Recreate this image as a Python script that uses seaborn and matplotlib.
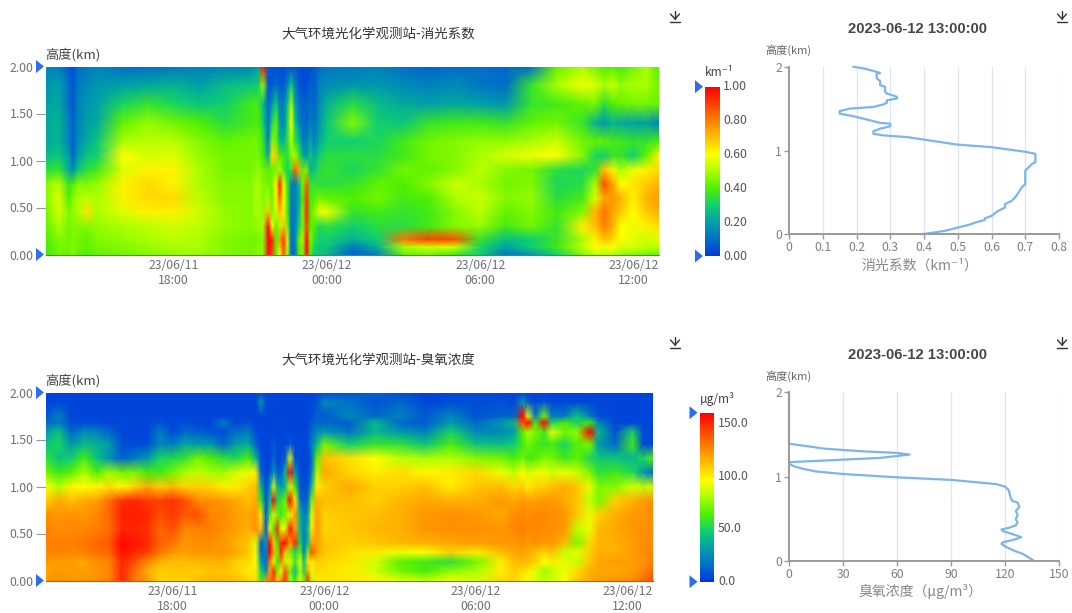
import numpy as np
import matplotlib
matplotlib.use('Agg')
import matplotlib.pyplot as plt
from matplotlib.lines import Line2D
import seaborn as sns

sns.set_theme(style="white")
plt.rcParams['font.family'] = ['Noto Sans CJK SC', 'DejaVu Sans']

W, H = 1072, 613

# shared colours of the color scale, low to high
scale_colors = ['#0038e0', '#0070c8', '#00a0a8', '#10d070', '#50f000', '#a8ff00',
                '#ffff00', '#ffc000', '#ff8000', '#ff4000', '#ff0000']

x_tick_labels = ['23/06/11\n18:00', '23/06/12\n00:00', '23/06/12\n06:00', '23/06/12\n12:00']
x_tick_hours = [5, 11, 17, 23]   # hours since 23/06/11 13:00

# ---------- extinction heatmap, values in 0.01 km-1 ----------
ext_hours = [0, .5, .9, 1.05, 1.25, 1.6, 2, 3, 4, 5, 6, 7, 8,
             8.3, 8.5, 8.7, 8.85, 9, 9.15, 9.3, 9.45, 9.6, 9.75, 9.9, 10.05, 10.2, 10.35, 10.5, 10.7,
             11, 12, 13, 14, 15, 16, 17, 18, 19, 20, 21, 21.5, 21.85, 22.2, 22.5, 23, 23.5, 24]
ext_heights = [0, .08, .16, .3, .45, .6, .75, .9, 1.05, 1.2, 1.4, 1.6, 1.8, 2.0]
ext_grid = [
    [38,44,42,46,42,40,42,44,46,48,48,46,44, 46,46,98,90,40,60,86,50,10,10,38,46,98,40,30,28, 25,8,14,42,44,38,30,12,18,30,46,52,52,50,48,46,44,42],
    [38,44,44,46,44,42,44,46,48,50,50,46,44, 46,46,99,92,40,68,90,52,10,12,40,46,99,42,32,28, 28,12,24,50,55,55,32,20,30,38,52,60,58,60,55,55,52,52],
    [40,46,44,46,44,42,46,48,50,52,50,46,44, 44,46,99,95,40,75,92,55,10,14,42,50,99,46,36,30, 30,24,30,82,90,88,36,26,30,36,50,62,70,66,60,56,54,56],
    [42,50,44,46,46,46,48,50,52,54,52,48,46, 48,50,99,60,42,50,70,45,12,14,30,45,90,40,40,32, 35,30,34,34,38,46,48,38,44,36,62,70,80,72,60,58,62,65],
    [44,55,46,48,50,64,50,56,62,62,54,48,46, 50,48,70,45,55,70,62,40,12,12,25,45,95,40,46,58, 58,36,38,36,38,46,52,42,46,38,46,72,82,74,68,60,68,72],
    [46,56,40,46,50,52,50,62,66,66,52,46,46, 50,46,50,42,60,85,60,40,14,14,22,40,92,38,40,44, 42,40,44,38,40,50,54,46,48,34,38,56,74,76,72,62,72,76],
    [46,52,36,40,46,46,48,62,66,62,50,46,46, 50,46,44,44,60,96,58,38,14,12,24,44,85,36,36,34, 34,36,42,40,46,54,50,44,46,32,34,50,88,74,60,64,68,72],
    [34,36,22,16,28,34,38,56,62,62,50,44,44, 48,44,42,42,44,50,40,30,36,85,75,42,46,24,28,34, 36,32,36,44,42,46,52,46,44,34,32,36,70,62,50,58,62,66],
    [26,28,20,8,20,28,30,60,55,56,48,44,44, 44,38,22,66,68,40,38,34,46,50,38,24,18,28,22,30, 34,34,34,38,44,46,50,55,58,60,46,32,30,36,36,30,42,62],
    [22,24,14,8,16,22,28,50,52,52,46,42,44, 44,36,14,46,44,26,24,34,50,36,28,14,14,22,14,22, 30,30,32,38,44,46,48,48,50,54,44,42,42,38,38,36,36,40],
    [22,24,14,8,14,20,22,42,48,44,40,34,38, 40,30,10,32,42,20,14,32,60,30,16,10,8,14,10,18, 28,46,30,28,36,38,38,36,42,44,36,24,18,24,22,20,20,14],
    [20,22,10,6,14,18,20,32,36,32,28,30,38, 38,26,8,18,30,14,14,26,50,22,10,8,8,10,8,16, 24,34,26,22,20,22,20,18,36,38,42,44,34,40,42,44,44,42],
    [18,20,10,6,12,16,18,20,22,24,20,26,28, 30,48,6,6,10,6,6,14,30,14,6,4,4,8,6,14, 16,18,18,16,14,16,12,10,36,50,58,56,50,54,48,50,50,44],
    [14,14,6,4,10,12,14,10,10,12,14,14,14, 20,98,6,4,4,4,4,4,4,6,4,4,4,4,6,10, 12,12,14,10,8,10,10,8,10,42,50,44,40,40,38,44,50,40],
]

# ---------- ozone heatmap, values in ug/m3 ----------
o3_hours = [0, .5, 1, 1.5, 2, 2.5, 3, 3.5, 4, 4.5, 5, 5.5, 6, 6.5, 7, 7.5, 8,
            8.3, 8.5, 8.7, 8.85, 9, 9.15, 9.3, 9.45, 9.65, 9.85, 10.05, 10.2, 10.35, 10.5, 10.7,
            11, 12, 13, 14, 15, 16, 17, 18, 18.5, 18.85, 19.05, 19.35, 19.7, 20, 20.5, 21, 21.5, 21.85, 22.5, 23.2, 23.6, 24]
o3_heights = [0, .1, .2, .3, .4, .55, .7, .85, 1.0, 1.15, 1.3, 1.45, 1.58, 1.68, 1.75, 1.9, 2.0]
o3_grid = [
    [122,124,122,122,124,128,150,130,122,106,108,106,112,114,114,112,108, 104,60,120,130,140,110,125,150,80,60,90,70,150,80,100, 102,102,98,90,84,92,88,105,106,100,95,90,85,88,95,110,118,120,122,126,132,140],
    [118,122,120,120,122,126,150,132,118,108,110,110,108,112,110,108,100, 100,50,25,120,150,70,90,140,70,40,80,50,120,90,105, 104,100,88,70,62,75,80,100,108,104,100,90,78,84,92,104,116,118,118,120,126,134],
    [122,120,120,118,124,126,150,140,126,116,112,112,114,114,116,108,104, 98,30,15,130,90,60,125,80,100,60,90,45,105,100,108, 106,102,88,66,60,55,70,100,112,114,112,108,95,100,90,85,110,118,120,120,122,128],
    [126,128,126,128,132,134,156,150,144,130,122,120,122,122,122,118,110, 92,16,20,160,120,70,150,110,70,50,70,20,70,140,120, 110,104,100,92,96,108,100,112,118,120,116,112,106,112,85,90,108,116,116,120,124,128],
    [128,128,128,130,134,138,158,154,150,136,130,122,124,124,122,116,110, 90,12,30,160,110,60,150,160,120,150,50,20,40,120,120, 110,108,110,114,116,118,120,122,122,124,122,124,122,122,114,72,106,114,116,120,124,126],
    [128,124,126,126,128,132,150,150,148,134,140,126,128,128,124,120,116, 124,110,12,100,60,150,90,90,155,120,40,20,40,100,122, 106,110,114,116,122,124,124,122,126,128,126,126,124,124,122,84,92,114,118,122,124,124],
    [124,122,124,122,126,134,152,152,150,140,146,138,140,126,126,120,118, 122,100,10,60,90,70,60,70,90,120,40,20,30,90,120, 108,110,112,116,122,124,122,118,124,126,124,126,126,124,122,110,92,108,116,122,122,126],
    [108,118,112,118,120,132,148,150,146,144,148,140,126,124,122,118,112, 118,60,8,40,160,50,60,70,160,100,20,10,15,70,116, 112,112,108,114,118,116,116,122,118,122,120,120,122,122,118,110,84,72,108,116,120,124],
    [96,82,98,96,98,104,98,106,118,108,114,106,108,106,100,100,108, 112,40,4,30,90,40,30,40,90,60,10,6,8,40,100, 108,118,108,108,112,100,110,112,106,108,100,106,108,112,116,110,92,72,74,88,84,86],
    [70,60,66,80,64,78,70,72,62,60,70,80,84,80,78,88,92, 100,14,4,8,30,10,10,40,158,30,6,4,6,20,80, 118,106,100,104,98,100,106,92,84,96,88,92,94,88,92,86,72,56,60,52,30,14],
    [56,44,48,62,44,28,12,20,30,50,52,58,70,64,56,52,64, 40,8,4,4,14,4,6,10,90,8,4,4,4,14,66, 112,104,96,84,80,82,74,70,62,70,60,64,72,70,60,66,52,46,44,40,50,66],
    [44,50,30,40,38,30,8,6,6,24,20,34,30,30,14,32,36, 12,4,4,4,10,4,4,4,10,4,4,4,6,20,40, 70,48,58,56,44,62,44,42,48,60,70,62,58,62,50,66,70,30,14,60,6,4],
    [30,44,14,26,22,14,4,4,4,20,6,14,12,8,6,16,20, 6,4,4,4,4,4,4,4,4,4,4,4,6,14,24, 30,18,40,30,22,50,24,24,30,66,80,72,60,90,70,76,160,40,8,50,6,4],
    [14,20,6,6,6,4,4,4,4,8,4,8,4,4,20,4,8, 4,4,4,4,4,4,4,4,4,4,4,4,4,10,14, 14,10,40,14,10,30,14,30,40,140,160,60,160,50,62,50,60,24,4,4,4,4],
    [8,22,4,4,4,4,4,4,4,4,4,4,4,4,4,4,4, 4,4,4,4,4,4,4,4,4,4,4,4,4,6,12, 10,24,14,22,10,24,8,12,14,160,90,20,70,20,20,44,20,6,4,4,4,4],
    [4,4,4,4,4,4,4,4,4,4,4,4,4,4,4,4,4, 4,30,4,4,4,4,4,4,4,4,4,4,4,4,8, 24,18,8,14,4,6,6,8,4,30,10,4,8,4,4,4,4,4,4,4,4,4],
    [4,4,4,4,4,4,4,4,4,4,4,4,4,4,4,4,4, 4,4,4,4,4,4,4,4,4,4,4,4,4,4,6, 6,8,12,6,4,6,6,4,4,4,4,4,4,4,4,4,4,4,4,4,4,4],
]

# ---------- profiles at 2023-06-12 13:00:00 ----------
ext_profile_x = [.39,.42,.46,.50,.53,.56,.58,.58,.60,.62,.64,.64,.66,.67,.68,.69,.70,.70,.71,.72,.73,.73,.70,.60,.50,.40,.35,.28,.25,.25,.27,.30,.30,.27,.22,.19,.15,.15,.18,.25,.28,.29,.29,.32,.32,.29,.285,.285,.27,.27,.26,.26,.27,.25,.22,.19]
ext_profile_h = [0,.015,.04,.08,.11,.15,.17,.19,.22,.28,.32,.36,.40,.44,.50,.56,.60,.76,.80,.84,.86,.96,.985,1.04,1.07,1.13,1.16,1.18,1.20,1.23,1.26,1.29,1.32,1.33,1.38,1.41,1.44,1.47,1.50,1.52,1.55,1.57,1.60,1.62,1.64,1.68,1.70,1.76,1.78,1.83,1.86,1.92,1.925,1.95,1.98,2.0]
o3_profile_x = [136,130,125,120,118,119,125,129,125,119,118,122,126,127,126,127,126,128,127,124,123,122,120,115,105,90,60,30,15,8,3,0,0,10,30,50,67,60,40,20,10,0,0]
o3_profile_h = [0,.08,.12,.17,.2,.22,.25,.28,.31,.35,.37,.39,.42,.46,.49,.55,.59,.64,.69,.71,.76,.84,.88,.91,.93,.96,.99,1.03,1.06,1.09,1.12,1.15,1.17,1.18,1.2,1.22,1.26,1.28,1.30,1.33,1.36,1.39,2.0]

ext_xticks = [0, .1, .2, .3, .4, .5, .6, .7, .8]
ext_xticklabels = ['0', '0.1', '0.2', '0.3', '0.4', '0.5', '0.6', '0.7', '0.8']
o3_xticks = [0, 30, 60, 90, 120, 150]

cmap = sns.blend_palette(scale_colors, as_cmap=True)
fig = plt.figure(figsize=(W / 100, H / 100), dpi=100)


def px_axes(x0, y0, x1, y1):
    # axes from pixel box, y measured from the top of the picture
    return fig.add_axes([x0 / W, 1 - y1 / H, (x1 - x0) / W, (y1 - y0) / H])


def px_text(x, y, s, **kw):
    kw.setdefault('ha', 'center')
    kw.setdefault('va', 'center')
    fig.text(x / W, 1 - y / H, s, **kw)


def px_line(xs, ys, color='#333333', lw=1.0):
    fig.add_artist(Line2D([x / W for x in xs], [1 - y / H for y in ys],
                          color=color, lw=lw, transform=fig.transFigure))


def download_icon(x, y):
    px_line([x - 5, x + 5], [y + 6, y + 6])
    px_line([x, x], [y - 5, y + 3])
    px_line([x - 4.5, x, x + 4.5], [y - 2, y + 3, y - 2])


def handle(x, y):
    # blue range handle of the visual map
    fig.add_artist(plt.Polygon([[x / W, 1 - (y - 6.5) / H], [x / W, 1 - (y + 6.5) / H], [(x + 8) / W, 1 - y / H]],
                               closed=True, color='#2b6ff0', transform=fig.transFigure, lw=0, zorder=5))


def heat_panel(box, hours, heights, grid, vmax, title, title_x, title_y):
    ax = px_axes(*box)
    ax.pcolormesh(hours, heights, np.array(grid, dtype=float), cmap=cmap, vmin=0, vmax=vmax, shading='gouraud')
    ax.set_xlim(0, 24)
    ax.set_ylim(0, 2)
    sns.despine(ax=ax, left=True, top=True, right=True)
    ax.spines['bottom'].set_color('#6e7079')
    ax.spines['bottom'].set_linewidth(0.8)
    ax.set_xticks(x_tick_hours)
    ax.set_xticklabels(x_tick_labels, fontsize=8.8, color='#6e7079', linespacing=1.25)
    ax.tick_params(axis='x', length=0, pad=3)
    ax.set_yticks([0, .5, 1, 1.5, 2])
    ax.set_yticklabels(['0.00', '0.50', '1.00', '1.50', '2.00'], fontsize=8.8, color='#6e7079')
    ax.tick_params(axis='y', length=7, width=0.8, color='#999999', pad=2, left=True)
    ax.yaxis.get_major_ticks()[2].tick1line.set_color('#333333')
    ax.yaxis.get_major_ticks()[0].tick1line.set_visible(False)
    ax.yaxis.get_major_ticks()[4].tick1line.set_visible(False)
    px_text(box[0] - 1, box[1] - 12, '高度(km)', ha='left', fontsize=9.5, color='#444444')
    px_text(title_x, title_y, title, fontsize=9.7, color='#333333')
    handle(36, box[1])
    handle(36, box[3])
    return ax


def scale_bar(box, vmax, ticks, labels, unit, label_x):
    ax = px_axes(*box)
    sns.heatmap(np.linspace(1, 0, 256).reshape(-1, 1), ax=ax, cmap=cmap, vmin=0, vmax=1, cbar=False,
                xticklabels=False, yticklabels=False)
    y0, y1 = box[1], box[3]
    for t, lab in zip(ticks, labels):
        px_text(label_x, y1 - (y1 - y0) * t / vmax, lab, ha='left', fontsize=8.8, color='#555555')
    px_text(box[0], y0 - 14, unit, ha='left', fontsize=8.6, color='#444444')
    handle(box[0] - 10, y0)
    handle(box[0] - 10, y1)


def profile_panel(box, xs, hs, xmax, xticks, xticklabels, xlabel, title_y):
    ax = px_axes(*box)
    sns.lineplot(x=xs, y=hs, sort=False, estimator=None, orient='y', color='#7cb5ec', lw=1.6, ax=ax, clip_on=False)
    ax.set_xlim(0, xmax)
    ax.set_ylim(0, 2)
    sns.despine(ax=ax)
    for side in ['left', 'bottom']:
        ax.spines[side].set_color('#9a9a9a')
        ax.spines[side].set_linewidth(1.4)
    ax.set_xticks(xticks)
    ax.set_xticklabels(xticklabels, fontsize=8.8, color='#808080')
    ax.set_yticks([0, 1, 2])
    ax.set_yticklabels(['0', '1', '2'], fontsize=8.8, color='#808080')
    ax.tick_params(axis='both', length=3.5, width=1, color='#9a9a9a', pad=1.5, left=True, bottom=True)
    for x in xticks[1:]:
        ax.axvline(x, color='#e0e6f1', lw=0.9, zorder=0)
    px_text(917, title_y, '2023-06-12 13:00:00', family='Liberation Sans', fontweight='bold', fontsize=10.6, color='#464646')
    px_text(box[0] - 24, box[1] - 16.5, '高度(km)', ha='left', fontsize=8, color='#666666')
    px_text(920, box[3] + 31, xlabel, fontsize=10, color='#888888')
    return ax


heat_panel((46, 66.5, 659, 254.5), ext_hours, ext_heights, np.array(ext_grid) / 100, 1.0,
           '大气环境光化学观测站-消光系数', 378, 33.5)
heat_panel((46, 392.5, 653, 580.5), o3_hours, o3_heights, o3_grid, 160,
           '大气环境光化学观测站-臭氧浓度', 378, 359.5)

scale_bar((705, 86.7, 720, 256), 1.0, [0, .2, .4, .6, .8, 1.0],
          ['0.00', '0.20', '0.40', '0.60', '0.80', '1.00'], 'km⁻¹', 723)
scale_bar((699.5, 412.7, 714, 581.7), 160, [0, 50, 100, 150],
          ['0.0', '50.0', '100.0', '150.0'], 'µg/m³', 718)

profile_panel((789, 66.7, 1059, 234.3), ext_profile_x, ext_profile_h, .8, ext_xticks, ext_xticklabels,
              '消光系数（km⁻¹）', 29)
profile_panel((789, 392.3, 1059, 560.7), o3_profile_x, o3_profile_h, 150, o3_xticks, [str(t) for t in o3_xticks],
              '臭氧浓度（µg/m³）', 355)

for ix, iy in [(675, 16), (1062, 16), (675, 342), (1062, 342)]:
    download_icon(ix, iy)

fig.savefig('out.png', dpi=100)
